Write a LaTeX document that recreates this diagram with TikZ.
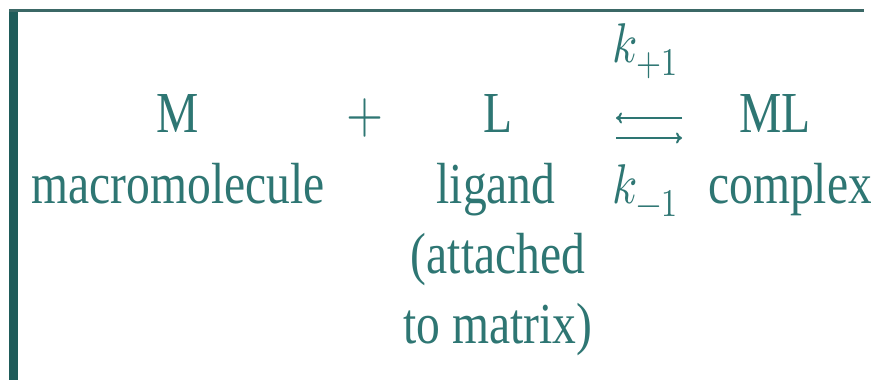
\documentclass[tikz,border=0pt]{standalone}
\usepackage{amsmath}
\usepackage{fontspec}
\usepackage{unicode-math}
\setmainfont{Liberation Serif}
\setmathfont{Latin Modern Math}
\usepackage{tikz}
\usetikzlibrary{arrows.meta}
\definecolor{teal_text}{HTML}{2E7673}
\definecolor{teal_dark}{HTML}{1F5C5A}
\definecolor{teal_line}{HTML}{3B6866}

\begin{document}
\begin{tikzpicture}[x=1pt,y=1pt,
    lbl/.style={text=teal_text,anchor=base,inner sep=0pt,xscale=0.82,
                font=\fontsize{58}{70}\selectfont},
    rate/.style={lbl,font=\fontsize{56}{66}\selectfont},
    rxn/.style={teal_text,line width=2pt,-{To[length=6pt,width=11pt]}}]

    \useasboundingbox[fill=white] (0,0) rectangle (871,-380);

    % frame of the slide
    \fill[teal_dark] (9,-9) rectangle (18,-380);
    \draw[teal_line,line width=3pt] (9,-10) -- (864,-10);

    % top row
    \node[lbl] (M) at (178,-132) {M};
    \node[lbl] (plus) at (365,-132) {$+$};
    \node[lbl] (L) at (498,-132) {L};
    \node[lbl] (ML) at (775,-132) {ML};

    % names
    \node[lbl] (macro) at (178,-203) {macromolecule};
    \node[lbl] (ligand) at (496,-203) {ligand};
    \node[lbl] (attached) at (498,-273) {(attached};
    \node[lbl] (matrix) at (498,-343) {to matrix)};
    \node[lbl,anchor=base west] (complex) at (708,-203) {complex};

    % rate constants and arrows
    \node[rate,anchor=base west] (kf) at (612,-62) {$k_{+1}$};
    \node[rate,anchor=base west] (kb) at (612,-203) {$k_{-1}$};
    \coordinate (fwdA) at (682,-118);
    \coordinate (fwdB) at (616,-118);
    \coordinate (bwdA) at (616,-138);
    \coordinate (bwdB) at (682,-138);
    \draw[rxn] (fwdA) -- (fwdB);
    \draw[rxn] (bwdA) -- (bwdB);

\end{tikzpicture}
\end{document}
